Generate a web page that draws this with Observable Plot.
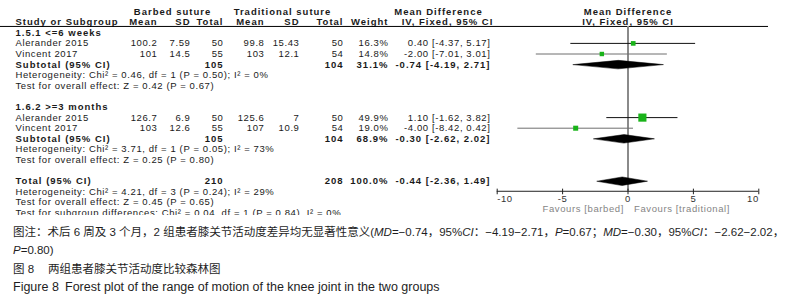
<!DOCTYPE html>
<html><head><meta charset="utf-8">
<script src="https://cdn.jsdelivr.net/npm/d3@7"></script>
<script src="https://cdn.jsdelivr.net/npm/@observablehq/plot@0.6"></script>
<style>
body{margin:0;background:#fff;}
#chart svg{overflow:hidden;display:block}
#chart svg text{letter-spacing:0.6px}
#chart svg g[font-weight="bold"] text{letter-spacing:1px}
.cap{font-family:"Liberation Sans","Noto Sans CJK SC",sans-serif;font-size:11.5px;color:#1e1e1e;padding:8px 0 0 13px;line-height:18.4px;white-space:nowrap}
.cap .lab{display:inline-block;width:35px}
.cap .en{font-size:12.5px}
.cap .en .lab{width:52px}
</style></head><body>
<div id="chart"></div>
<div class="cap">
<div>图注：术后 6 周及 3 个月，2 组患者膝关节活动度差异均无显著性意义(<i>MD</i>=−0.74，95%<i>CI</i>：−4.19−2.71，<i>P</i>=0.67；<i>MD</i>=−0.30，95%<i>CI</i>：−2.62−2.02，</div>
<div><i>P</i>=0.80)</div>
<div><span class="lab">图 8</span>两组患者膝关节活动度比较森林图</div>
<div class="en"><span class="lab">Figure 8</span>Forest plot of the range of motion of the knee joint in the two groups</div>
</div>
<script>
// ---- data ----
const groups = ["1.5.1 <=6 weeks", "1.6.2 >=3 months"];
const studies = ["Alerander 2015", "Vincent 2017", "Alerander 2015", "Vincent 2017"];
const studyGroup = [0, 0, 1, 1];
const barbedMean = [100.2, 101, 126.7, 103];
const barbedSD = [7.59, 14.5, 6.9, 12.6];
const barbedN = [50, 55, 50, 55];
const tradMean = [99.8, 103, 125.6, 107];
const tradSD = [15.43, 12.1, 7, 10.9];
const tradN = [50, 54, 50, 54];
const weight = [16.3, 14.8, 49.9, 19.0];
const md = [0.40, -2.00, 1.10, -4.00];
const mdLo = [-4.37, -7.01, -1.62, -8.42];
const mdHi = [5.17, 3.01, 3.82, 0.42];
const subBarbedN = [105, 105];
const subTradN = [104, 104];
const subWeight = [31.1, 68.9];
const subMD = [-0.74, -0.30];
const subLo = [-4.19, -2.62];
const subHi = [2.71, 2.02];
const heterogeneity = [
  "Heterogeneity: Chi² = 0.46, df = 1 (P = 0.50); I² = 0%",
  "Heterogeneity: Chi² = 3.71, df = 1 (P = 0.05); I² = 73%"
];
const overallEffect = [
  "Test for overall effect: Z = 0.42 (P = 0.67)",
  "Test for overall effect: Z = 0.25 (P = 0.80)"
];
const totalBarbedN = 210, totalTradN = 208, totalWeight = 100.0;
const totalMD = -0.44, totalLo = -2.36, totalHi = 1.49;
const totalNotes = [
  "Heterogeneity: Chi² = 4.21, df = 3 (P = 0.24); I² = 29%",
  "Test for overall effect: Z = 0.45 (P = 0.65)",
  "Test for subgroup differences: Chi² = 0.04, df = 1 (P = 0.84), I² = 0%"
];
const xTicks = [-10, -5, 0, 5, 10];
const favours = ["Favours [barbed]", "Favours [traditional]"];
const headerTop = ["Barbed suture", "Traditional suture", "Mean Difference"];
const headerCols = ["Mean", "SD", "Total", "Mean", "SD", "Total", "Weight"];
const plotHeader = ["Mean Difference", "IV, Fixed, 95% CI"];

// ---- layout (pixel columns of the table) ----
const headerTopX = [172, 282, 438];
const colX = [157, 190, 223, 264, 299, 343, 388];
const labelX = 15, ciX = 490, ciHeadX = 447;

// ---- build table rows ----
const f2 = v => v.toFixed(2);
const ciText = (m, l, h) => `${f2(m)} [${f2(l)}, ${f2(h)}]`;
const rows = [];
let r = 0;
groups.forEach((g, gi) => {
  rows.push({row: r++, bold: true, label: g});
  studies.forEach((s, i) => {
    if (studyGroup[i] !== gi) return;
    rows.push({row: r++, kind: "study", label: s, bm: String(barbedMean[i]), bsd: String(barbedSD[i]), bn: String(barbedN[i]),
      tm: String(tradMean[i]), tsd: String(tradSD[i]), tn: String(tradN[i]), w: weight[i].toFixed(1) + "%",
      ci: ciText(md[i], mdLo[i], mdHi[i]), md: md[i], lo: mdLo[i], hi: mdHi[i], weight: weight[i]});
  });
  rows.push({row: r++, kind: "pooled", bold: true, label: "Subtotal (95% CI)", bn: String(subBarbedN[gi]), tn: String(subTradN[gi]),
    w: subWeight[gi].toFixed(1) + "%", ci: ciText(subMD[gi], subLo[gi], subHi[gi]), md: subMD[gi], lo: subLo[gi], hi: subHi[gi]});
  rows.push({row: r++, label: heterogeneity[gi]});
  rows.push({row: r++, label: overallEffect[gi]});
  r++;
});
rows.push({row: r++, kind: "pooled", bold: true, label: "Total (95% CI)", bn: String(totalBarbedN), tn: String(totalTradN),
  w: totalWeight.toFixed(1) + "%", ci: ciText(totalMD, totalLo, totalHi), md: totalMD, lo: totalLo, hi: totalHi});
totalNotes.forEach(t => rows.push({row: r++, label: t}));

const studyRows = rows.filter(d => d.kind === "study");
const pooledRows = rows.filter(d => d.kind === "pooled");
const diamondH = 0.4;
const diamonds = pooledRows.flatMap((d, k) => [
  {id: k, x: d.lo, y: d.row}, {id: k, x: d.md, y: d.row - diamondH},
  {id: k, x: d.hi, y: d.row}, {id: k, x: d.md, y: d.row + diamondH}
]);

// ---- marks ----
const FS = 9.5, TXT = "#1a1a1a";
const headRow = -1, topRow = -2, lineRow = -0.6, axisRow = 14.95;
function col(key, x, anchor) {
  const base = {y: "row", text: key, frameAnchor: "left", dx: x, textAnchor: anchor, fontSize: FS, fill: TXT};
  return [
    Plot.text(rows.filter(d => d[key] != null && !d.bold), base),
    Plot.text(rows.filter(d => d[key] != null && d.bold), {...base, fontWeight: "bold"})
  ];
}
const keys = ["bm", "bsd", "bn", "tm", "tsd", "tn", "w"];
const headText = (txt, x, y, anchor) => Plot.text([txt], {y: () => y, text: d => d, frameAnchor: "left", dx: x, textAnchor: anchor, fontSize: FS, fontWeight: "bold", fill: TXT});

const marks = [
  // headers
  ...headerTop.map((h, i) => headText(h, headerTopX[i], topRow, "middle")),
  headText("Study or Subgroup", labelX, headRow, "start"),
  ...headerCols.map((h, i) => headText(h, colX[i], headRow, "end")),
  headText("IV, Fixed, 95% CI", ciHeadX, headRow, "middle"),
  Plot.text(plotHeader.slice(0, 1), {x: () => 0, y: () => topRow, text: d => d, fontSize: FS, fontWeight: "bold", fill: TXT}),
  Plot.text(plotHeader.slice(1), {x: () => 0, y: () => headRow, text: d => d, fontSize: FS, fontWeight: "bold", fill: TXT}),
  Plot.ruleY([lineRow], {stroke: "#000", strokeWidth: 1}),
  // table body
  ...col("label", labelX, "start"),
  ...keys.flatMap((k, i) => col(k, colX[i], "end")),
  ...col("ci", ciX, "end"),
  // plot
  Plot.ruleX([0], {y1: () => lineRow, y2: () => axisRow, stroke: "#8a8a8a", strokeWidth: 2}),
  Plot.ruleY(studyRows, {y: "row", x1: "lo", x2: "hi", stroke: d => d.label.startsWith("Vincent") ? "#6e6e6e" : "#111", strokeWidth: 1}),
  Plot.dot(studyRows, {x: "md", y: "row", r: "weight", symbol: "square", fill: "#19b319", stroke: "none"}),
  Plot.line(diamonds, {x: "x", y: "y", z: "id", curve: "linear-closed", fill: "#000", stroke: "#000", strokeWidth: 0.5}),
  // axis
  Plot.ruleY([axisRow], {y: d => d, x1: () => xTicks[0], x2: () => xTicks[xTicks.length - 1], stroke: "#222"}),
  Plot.ruleX(xTicks, {x: d => d, y1: () => axisRow - 0.2, y2: () => axisRow + 0.33, stroke: "#222"}),
  Plot.text(xTicks.slice(0, 1), {x: d => d, y: () => axisRow, dy: 8, text: d => String(d), textAnchor: "start", fontSize: FS, fill: "#333"}),
  Plot.text(xTicks.slice(1, -1), {x: d => d, y: () => axisRow, dy: 8, text: d => String(d), textAnchor: "middle", fontSize: FS, fill: "#333"}),
  Plot.text(xTicks.slice(-1), {x: d => d, y: () => axisRow, dy: 8, text: d => String(d), textAnchor: "end", fontSize: FS, fill: "#333"}),
  Plot.text(favours.slice(0, 1), {x: () => 0, y: () => axisRow, dy: 18, dx: -4, text: d => d, textAnchor: "end", fontSize: FS, fill: "#858585"}),
  Plot.text(favours.slice(1), {x: () => 0, y: () => axisRow, dy: 18, dx: 6, text: d => d, textAnchor: "start", fontSize: FS, fill: "#858585"})
];

const chart = Plot.plot({
  width: 792, height: 215,
  marginLeft: 0, marginRight: 24, marginTop: 0, marginBottom: 0,
  x: {domain: [-10, 10], range: [496.7, 758.3], axis: null},
  y: {domain: [0, 17], range: [32.3, 212.5], axis: null},
  r: {type: "sqrt", domain: [0, 50], range: [0, 4.6]},
  style: {fontFamily: "'Liberation Sans', Arial, sans-serif", fontSize: FS + "px", background: "#fff"},
  marks
});
document.getElementById("chart").appendChild(chart);
</script>
</body></html>
